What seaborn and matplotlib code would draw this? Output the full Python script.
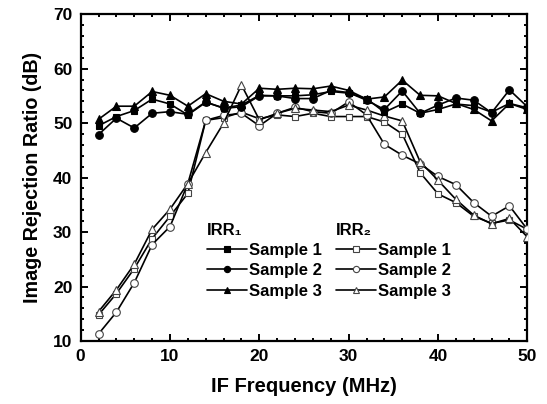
import numpy as np
import pandas as pd
import matplotlib
matplotlib.use("Agg")
import matplotlib.pyplot as plt
from matplotlib.lines import Line2D
from matplotlib.ticker import MultipleLocator
import seaborn as sns

freq = [2, 4, 6, 8, 10, 12, 14, 16, 18, 20, 22, 24, 26, 28, 30, 32, 34, 36, 38, 40, 42, 44, 46, 48, 50]

irr1_s1 = [49.5, 51.2, 52.3, 54.4, 53.5, 51.5, 53.8, 52.8, 53.3, 55.1, 55.0, 55.0, 55.2, 55.8, 55.5, 54.5, 52.0, 53.5, 51.8, 52.5, 53.5, 53.2, 52.0, 53.6, 52.8]
irr1_s2 = [47.9, 50.9, 49.1, 51.8, 52.1, 51.6, 53.9, 52.7, 53.0, 55.0, 55.0, 54.5, 54.5, 56.0, 55.6, 54.2, 52.5, 55.9, 51.8, 53.3, 54.6, 54.2, 51.9, 56.1, 53.0]
irr1_s3 = [50.7, 53.1, 53.1, 55.8, 55.1, 53.1, 55.4, 54.0, 53.5, 56.4, 56.2, 56.4, 56.3, 56.8, 56.0, 54.4, 54.8, 57.9, 55.1, 55.0, 53.6, 52.5, 50.4, 53.6, 52.5]

irr2_s1 = [14.8, 18.7, 23.3, 28.8, 32.9, 37.1, 50.5, 51.0, 52.0, 50.8, 51.5, 51.2, 51.8, 51.2, 51.2, 51.2, 50.2, 48.0, 40.9, 37.0, 35.4, 32.9, 31.6, 32.2, 30.5]
irr2_s2 = [11.3, 15.3, 20.7, 27.7, 31.0, 38.9, 50.5, 51.4, 51.8, 49.5, 51.8, 52.9, 52.1, 51.8, 53.9, 51.5, 46.1, 44.1, 42.5, 40.2, 38.7, 35.4, 32.9, 34.8, 30.5]
irr2_s3 = [15.4, 19.4, 24.1, 30.5, 34.2, 38.9, 44.6, 50.0, 57.0, 50.6, 51.8, 52.7, 52.4, 52.1, 53.3, 52.4, 51.3, 50.4, 42.9, 39.5, 36.0, 33.1, 31.5, 32.5, 29.1]

sample_labels = ["Sample 1", "Sample 2", "Sample 3"]
group_titles = ["IRR\u2081", "IRR\u2082"]
x_label = "IF Frequency (MHz)"
y_label = "Image Rejection Ratio (dB)"

sns.set_theme(style="ticks")
plt.rcParams["font.family"] = ["Liberation Sans", "DejaVu Sans"]
plt.rcParams["font.weight"] = "bold"
plt.rcParams["axes.labelweight"] = "bold"
plt.rcParams["text.color"] = "black"
plt.rcParams["axes.labelcolor"] = "black"
plt.rcParams["xtick.color"] = "black"
plt.rcParams["ytick.color"] = "black"
plt.rcParams["xtick.labelcolor"] = "black"
plt.rcParams["ytick.labelcolor"] = "black"

fig = plt.figure(figsize=(5.47, 4.04), dpi=100)
ax = fig.add_axes([0.1475, 0.156, 0.8165, 0.809])

markers = ["s", "o", "^"]
msizes = [5, 5.5, 6]
series = [
    (irr1_s1, "s", "black"), (irr1_s2, "o", "black"), (irr1_s3, "^", "black"),
    (irr2_s1, "s", "white"), (irr2_s2, "o", "white"), (irr2_s3, "^", "white"),
]
for i, (vals, mk, fc) in enumerate(series):
    df = pd.DataFrame({"f": freq, "v": vals})
    sns.lineplot(data=df, x="f", y="v", ax=ax, color="black", linewidth=1.2,
                 marker=mk, markersize=msizes[i % 3], markerfacecolor=fc,
                 markeredgecolor="black" if fc == "black" else "#444444",
                 markeredgewidth=0.8, zorder=3 if fc == "white" else 4)

ax.set_xlim(0, 50)
ax.set_ylim(10, 70)
ax.xaxis.set_major_locator(MultipleLocator(10))
ax.xaxis.set_minor_locator(MultipleLocator(2))
ax.yaxis.set_major_locator(MultipleLocator(10))
ax.yaxis.set_minor_locator(MultipleLocator(2))
ax.tick_params(which="both", direction="in", top=True, right=True, width=1.4,
               colors="black", labelcolor="black")
ax.tick_params(which="major", length=5, labelsize=12.5)
ax.tick_params(axis="x", which="major", pad=6)
ax.tick_params(axis="y", which="major", pad=6)
ax.tick_params(which="minor", length=2.5)
for lab in ax.get_xticklabels() + ax.get_yticklabels():
    lab.set_fontweight("bold")
for s in ax.spines.values():
    s.set_linewidth(1.6)
    s.set_color("black")
ax.set_xlabel(x_label, fontsize=14.5, fontweight="bold", labelpad=9, color="black")
ax.set_ylabel(y_label, fontsize=14.2, fontweight="bold", labelpad=8, color="black")

def make_handles(fc):
    hs = []
    for j, mk in enumerate(markers):
        hs.append(Line2D([0], [0], color="black", linewidth=1.2, marker=mk,
                         markersize=msizes[j] - 1, markerfacecolor=fc,
                         markeredgecolor="black" if fc == "black" else "#444444",
                         markeredgewidth=0.8))
    return hs

leg_kw = dict(frameon=False, loc="upper left", borderpad=0, borderaxespad=0,
              handlelength=2.4, handletextpad=0.1, labelspacing=0.32,
              prop={"size": 12, "weight": "bold"},
              title_fontproperties={"size": 12, "weight": "bold"},
              alignment="left", labelcolor="black")
leg1 = ax.legend(make_handles("black"), sample_labels, title=group_titles[0],
                 bbox_to_anchor=(0.283, 0.362), **leg_kw)
ax.add_artist(leg1)
leg2 = ax.legend(make_handles("white"), sample_labels, title=group_titles[1],
                 bbox_to_anchor=(0.572, 0.362), **leg_kw)
for lg in (leg1, leg2):
    lg.get_title().set_color("black")

fig.savefig("out.png", dpi=100)
